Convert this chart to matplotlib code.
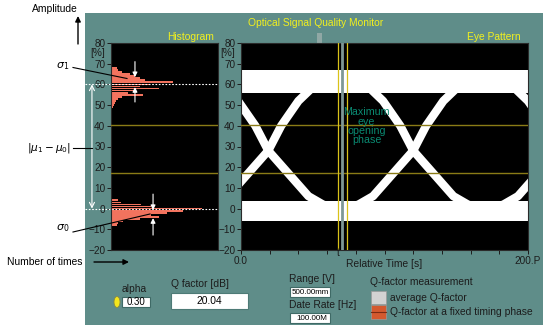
import matplotlib
matplotlib.use('Agg')
import matplotlib.pyplot as plt
from matplotlib.patches import Rectangle, Ellipse
from matplotlib.transforms import blended_transform_factory

plt.rcParams['font.family'] = ['Liberation Sans', 'DejaVu Sans']

# ---------------- data ----------------
hist_top_levels = [68, 67, 66, 65, 64, 63, 62, 61, 60, 59, 58, 57, 56, 55, 54, 53, 52, 51, 50, 49]
hist_top_counts = [6, 7, 10, 18, 22, 27, 32, 58, 36, 27, 45, 22, 16, 30, 10, 7, 5, 4, 3, 2]
hist_bot_levels = [4, 3, 2, 1, 0, -1, -2, -3, -4, -5, -6, -7, -8]
hist_bot_counts = [7, 9, 28, 37, 85, 67, 52, 37, 45, 27, 11, 7, 6]

eye_cross_times = [19, 120, 221]
edge_offsets = [-50, -38, -28, -14, 0, 9, 21, 30, 42]
rise_levels = [-1, 2, 6, 17, 28, 40, 52, 58, 61.5]
top_rail = [56, 67]
bottom_rail = [-6, 3.5]

threshold_levels = [40.5, 17]
cursor_times = [67.6, 73.9]
center_time = 70.7
y_ticks = [-20, -10, 0, 10, 20, 30, 40, 50, 60, 70, 80]
x_ticks_minor = [20, 40, 60, 80, 100, 120, 140, 160, 180]
x_tick_labels = ['0.0', '200.P']
mean_levels = [60, 0]
sigma1_pos, sigma1_from, sigma1_tips = 22.4, [71.0, 51.5], [63.5, 58.7]
sigma0_pos, sigma0_from, sigma0_tips = 39.3, [7.0, -12.8], [-0.7, -4.6]

alpha_value = '0.30'
q_factor = '20.04'
range_value = '500.00mm'
rate_value = '100.00M'

# ---------------- style ----------------
TEAL = '#5f8d89'
SALMON = '#f2735e'
YEL = '#f2f01e'
OLIVE = '#8a7b16'
CUR = '#d9c21a'
DARK = '#1c1c1c'
FS = 7.4

W, H = 543, 325
fig = plt.figure(figsize=(W / 100, H / 100), dpi=100)
fig.patch.set_facecolor('white')


def rect(x, y, w, h):
    return [x / W, 1 - (y + h) / H, w / W, h / H]


bg = fig.add_axes([0, 0, 1, 1], zorder=0)
bg.set_xlim(0, W); bg.set_ylim(H, 0); bg.axis('off')
bg.add_patch(Rectangle((85, 13), W - 85, H - 13, facecolor=TEAL, edgecolor='none'))
bg.add_patch(Rectangle((317, 33), 5, 10, facecolor='#90a8a5', edgecolor='none'))

# ---------------- histogram ----------------
ax_h = fig.add_axes(rect(111, 43, 107, 207), zorder=2)
ax_h.set_facecolor('black')
ax_h.barh(hist_top_levels, hist_top_counts, height=0.85, color=SALMON, zorder=2)
ax_h.barh(hist_bot_levels, hist_bot_counts, height=0.85, color=SALMON, zorder=2)
ax_h.set_xlim(0, 100)
ax_h.set_ylim(-20, 80)
for lv in threshold_levels:
    ax_h.axhline(lv, color=OLIVE, lw=1.0, zorder=3)

# ---------------- eye pattern ----------------
ax_e = fig.add_axes(rect(241, 43, 287, 207), zorder=2)
ax_e.set_facecolor('black')
for xc in eye_cross_times:
    for sgn in (1, -1):
        xs = [xc + sgn * d for d in edge_offsets]
        ax_e.plot(xs, rise_levels, color='white', lw=6,
                  solid_joinstyle='round', solid_capstyle='round', zorder=2)
ax_e.fill_between([0, 200], top_rail[0], top_rail[1], color='white', lw=0, zorder=2)
ax_e.fill_between([0, 200], bottom_rail[0], bottom_rail[1], color='white', lw=0, zorder=2)
for lv in threshold_levels:
    ax_e.axhline(lv, color=OLIVE, lw=1.0, zorder=4)
ax_e.axvline(center_time, color='#7f9896', lw=2.0, zorder=4)
for ct in cursor_times:
    ax_e.axvline(ct, color=CUR, lw=0.9, zorder=5)
ax_e.set_xlim(0, 200)
ax_e.set_ylim(-20, 80)
ax_e.set_xticks([0, 200])
ax_e.set_xticklabels(x_tick_labels)
ax_e.set_xticks(x_ticks_minor, minor=True)
ax_e.text(87.5, 49, 'Maximum\neye\nopening\nphase', color='#0a8a72', fontsize=7.7,
          ha='center', va='top', linespacing=0.92, zorder=6)

for ax in (ax_h, ax_e):
    ax.set_yticks(y_ticks)
    ax.tick_params(axis='both', which='both', direction='out', length=3, width=0.7,
                   color=DARK, labelcolor=DARK, labelsize=7.2, pad=1)
    for s in ax.spines.values():
        s.set_color('#2a2a2a'); s.set_linewidth(0.8)
    tr = blended_transform_factory(ax.transAxes, ax.transData)
    ax.annotate('[%]', xy=(0, 75.3), xycoords=tr, xytext=(-4.2, 0), textcoords='offset points',
                ha='right', va='center', fontsize=7.2, color=DARK, annotation_clip=False)
ax_h.set_xticks([])
ax_e.tick_params(axis='x', which='major', length=3, pad=1.5)

# mean lines and double arrow
tr_h = blended_transform_factory(ax_h.transAxes, ax_h.transData)
for lv in mean_levels:
    ax_h.plot([-0.243, 1.0], [lv, lv], transform=tr_h, color='white', lw=0.8,
              ls=(0, (1.5, 1.5)), clip_on=False, zorder=6)
ax_h.annotate('', xy=(-0.178, mean_levels[0]), xytext=(-0.178, mean_levels[1]),
              xycoords=tr_h, textcoords=tr_h, annotation_clip=False,
              arrowprops=dict(arrowstyle='<->', color='white', lw=0.8,
                              mutation_scale=9, shrinkA=0, shrinkB=0))
for pos, froms, tips in ((sigma1_pos, sigma1_from, sigma1_tips), (sigma0_pos, sigma0_from, sigma0_tips)):
    for f, t in zip(froms, tips):
        ax_h.annotate('', xy=(pos, t), xytext=(pos, f), zorder=7,
                      arrowprops=dict(arrowstyle='-|>', color='white', lw=0.8,
                                      mutation_scale=7, shrinkA=0, shrinkB=0))

# ---------------- overlay annotations ----------------
ov = fig.add_axes([0, 0, 1, 1], zorder=5)
ov.set_xlim(0, W); ov.set_ylim(H, 0); ov.axis('off'); ov.patch.set_alpha(0)

ov.text(316, 23, 'Optical Signal Quality Monitor', color=YEL, fontsize=FS, ha='center', va='center')
ov.text(214, 37, 'Histogram', color=YEL, fontsize=FS, ha='right', va='center')
ov.text(521, 37, 'Eye Pattern', color=YEL, fontsize=FS, ha='right', va='center')
ov.text(338, 253, 't', color=DARK, fontsize=7.2, ha='center', va='center')
ov.text(384, 264, 'Relative Time [s]', color=DARK, fontsize=FS, ha='center', va='center')

# left-side explanation
ov.text(55, 9, 'Amplitude', color='black', fontsize=FS, ha='center', va='center')
ov.annotate('', xy=(78, 16), xytext=(78, 44),
            arrowprops=dict(arrowstyle='-|>', color='black', lw=1.0, mutation_scale=8, shrinkA=0, shrinkB=0))
ov.text(45, 262, 'Number of times', color='black', fontsize=FS, ha='center', va='center')
ov.annotate('', xy=(129, 262), xytext=(94, 262),
            arrowprops=dict(arrowstyle='-|>', color='black', lw=1.0, mutation_scale=8, shrinkA=0, shrinkB=0))
ov.text(63, 66, r'$\sigma_1$', color='black', fontsize=8, ha='center', va='center')
ov.plot([73, 127], [67.5, 78.5], color='black', lw=0.8)
ov.text(49, 148, r'$|\mu_1 - \mu_0|$', color='black', fontsize=7.6, ha='center', va='center')
ov.plot([73, 92], [148, 148], color='black', lw=0.8)
ov.text(63, 228, r'$\sigma_0$', color='black', fontsize=8, ha='center', va='center')
ov.plot([73, 150], [232, 214], color='black', lw=0.8)

# bottom controls
ov.text(134.5, 289, 'alpha', color=DARK, fontsize=FS, ha='center', va='center')
ov.add_patch(Ellipse((117, 302), 6, 11, facecolor='#f4e61c', edgecolor='#8a8a40', lw=0.6))
ov.add_patch(Rectangle((122, 297), 28, 10, facecolor='white', edgecolor='#3f6a66', lw=0.8))
ov.text(136, 302.3, alpha_value, color='black', fontsize=7.0, ha='center', va='center')
ov.text(200, 284, 'Q factor [dB]', color=DARK, fontsize=FS, ha='center', va='center')
ov.add_patch(Rectangle((171, 293), 77, 16, facecolor='white', edgecolor='#4d7a76', lw=0.8))
ov.text(209.5, 301.3, q_factor, color='black', fontsize=7.4, ha='center', va='center')

ov.text(289, 279, 'Range [V]', color=DARK, fontsize=FS, ha='left', va='center')
ov.add_patch(Rectangle((290, 287), 40, 9.5, facecolor='white', edgecolor='#3f6a66', lw=0.8))
ov.text(310, 292, range_value, color='black', fontsize=5.8, ha='center', va='center')
ov.text(289, 305, 'Date Rate [Hz]', color=DARK, fontsize=FS, ha='left', va='center')
ov.add_patch(Rectangle((290, 313), 40, 9.5, facecolor='white', edgecolor='#3f6a66', lw=0.8))
ov.text(327, 318, rate_value, color='black', fontsize=5.8, ha='right', va='center')

ov.text(370, 282, 'Q-factor measurement', color=DARK, fontsize=FS, ha='left', va='center')
ov.add_patch(Rectangle((371, 291), 15, 13, facecolor='#d2d2d2', edgecolor='#9a9a9a', lw=0.5))
ov.add_patch(Rectangle((371, 305), 15, 14, facecolor='#d4592f', edgecolor='#9a9a9a', lw=0.5))
ov.plot([371, 386], [312, 312], color='#7a2a14', lw=0.8)
ov.text(390, 298, 'average Q-factor', color=DARK, fontsize=FS, ha='left', va='center')
ov.text(390, 312, 'Q-factor at a fixed timing phase', color=DARK, fontsize=FS, ha='left', va='center')

fig.savefig('out.png', dpi=100, facecolor=fig.get_facecolor())
